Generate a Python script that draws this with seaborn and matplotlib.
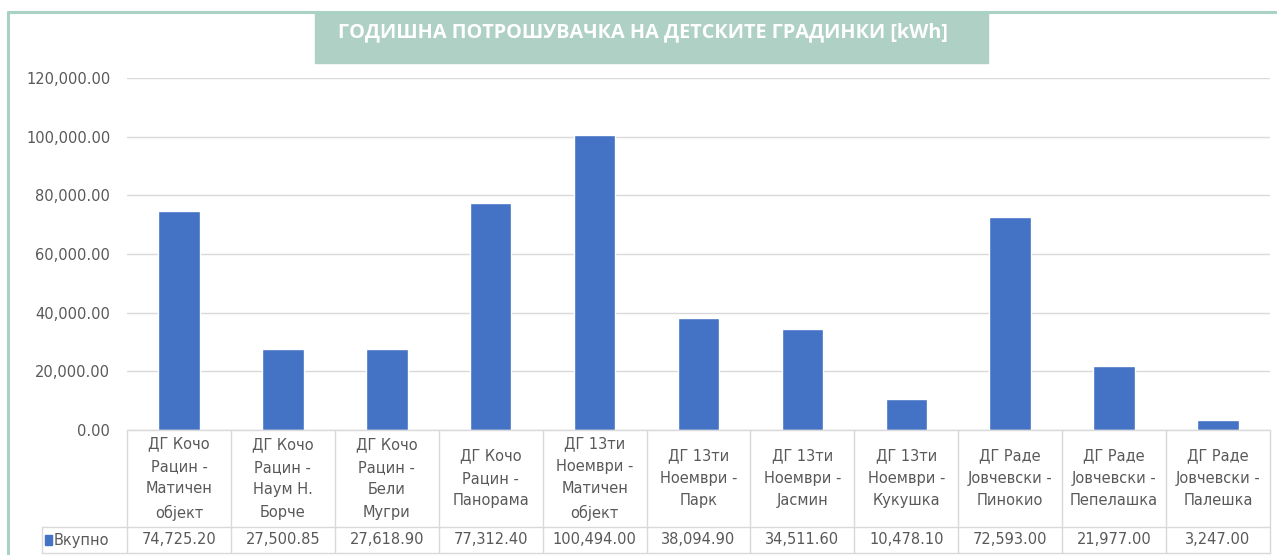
import matplotlib
matplotlib.use('Agg')
import matplotlib.pyplot as plt
import seaborn as sns
from matplotlib.patches import Rectangle
from matplotlib.lines import Line2D

# --- dados ---
categorias = [
    'ДГ Кочо\nРацин -\nМатичен\nобјект',
    'ДГ Кочо\nРацин -\nНаум Н.\nБорче',
    'ДГ Кочо\nРацин -\nБели\nМугри',
    'ДГ Кочо\nРацин -\nПанорама',
    'ДГ 13ти\nНоември -\nМатичен\nобјект',
    'ДГ 13ти\nНоември -\nПарк',
    'ДГ 13ти\nНоември -\nЈасмин',
    'ДГ 13ти\nНоември -\nКукушка',
    'ДГ Раде\nЈовчевски -\nПинокио',
    'ДГ Раде\nЈовчевски -\nПепелашка',
    'ДГ Раде\nЈовчевски -\nПалешка',
]
vkupno = [74725.20, 27500.85, 27618.90, 77312.40, 100494.00, 38094.90,
          34511.60, 10478.10, 72593.00, 21977.00, 3247.00]
serija = 'Вкупно'
naslov = 'ГОДИШНА ПОТРОШУВАЧКА НА ДЕТСКИТЕ ГРАДИНКИ [kWh]'
yticks = [0, 20000, 40000, 60000, 80000, 100000, 120000]

sns.set_style('white')
plt.rcParams['font.family'] = ['DejaVu Sans']

W, H = 1277, 555
fig = plt.figure(figsize=(W / 100, H / 100), dpi=100)

# area do grafico em pixels
x0, x1, y0, y1 = 127, 1270, 430, 78
ax = fig.add_axes([x0 / W, (H - y0) / H, (x1 - x0) / W, (y0 - y1) / H])

sns.barplot(x=list(range(len(vkupno))), y=vkupno, color='#4472c4',
            saturation=1, width=0.4, ax=ax)
ax.set_xlim(-0.5, len(vkupno) - 0.5)
ax.set_ylim(0, 120000)
ax.set_yticks(yticks)
ax.set_yticklabels([f'{v:,.2f}' for v in yticks], color='#595959', fontsize=10.5)
ax.tick_params(axis='y', length=0, pad=12)
ax.set_xticks([])
ax.set_xlabel('')
ax.set_ylabel('')
ax.grid(axis='y', color='#d9d9d9', lw=1)
ax.set_axisbelow(True)
for s in ax.spines.values():
    s.set_visible(False)

# --- tabela de dados ---
tr = ax.get_xaxis_transform()
axh = y0 - y1
cw = (x1 - x0) / len(vkupno)
r1 = -(527 - y0) / axh
r2 = -(553 - y0) / axh
xl = -0.5 - (x0 - 42) / cw
lc = '#d9d9d9'
n = len(vkupno)
for i in range(n + 1):
    ax.add_line(Line2D([i - 0.5, i - 0.5], [0, r2], transform=tr, color=lc, lw=1, clip_on=False))
ax.add_line(Line2D([-0.5, n - 0.5], [0, 0], transform=tr, color=lc, lw=1, clip_on=False))
ax.add_line(Line2D([xl, n - 0.5], [r1, r1], transform=tr, color=lc, lw=1, clip_on=False))
ax.add_line(Line2D([xl, n - 0.5], [r2, r2], transform=tr, color=lc, lw=1, clip_on=False))
ax.add_line(Line2D([xl, xl], [r1, r2], transform=tr, color=lc, lw=1, clip_on=False))

for i, (c, v) in enumerate(zip(categorias, vkupno)):
    ax.text(i, r1 / 2, c, transform=tr, ha='center', va='center', fontsize=10.5,
            color='#595959', linespacing=1.62, clip_on=False)
    ax.text(i, (r1 + r2) / 2, f'{v:,.2f}', transform=tr, ha='center', va='center',
            fontsize=10.5, color='#595959', clip_on=False)

ax.add_patch(Rectangle((xl + 0.03, (r1 + r2) / 2 - 0.014), 0.065, 0.028, transform=tr,
                       color='#4472c4', clip_on=False))
ax.text(xl + 0.11, (r1 + r2) / 2, serija, transform=tr, ha='left', va='center',
        fontsize=10.5, color='#595959', clip_on=False)

# --- moldura e titulo ---
borda = '#a9d1c4'
fig.add_artist(Line2D([8 / W, 8 / W], [0, (H - 12) / H], color=borda, lw=2.2))
fig.add_artist(Line2D([8 / W, 1], [(H - 12) / H, (H - 12) / H], color=borda, lw=2.2))
fig.add_artist(Rectangle((315 / W, (H - 63) / H), (988 - 315) / W, 51 / H,
                         transform=fig.transFigure, color='#afd0c5'))
fig.text(643 / W, (H - 32) / H, naslov, ha='center', va='center', color='white',
         fontsize=14.3, fontweight='bold', family='Open Sans')

fig.savefig('out.png', dpi=100)
